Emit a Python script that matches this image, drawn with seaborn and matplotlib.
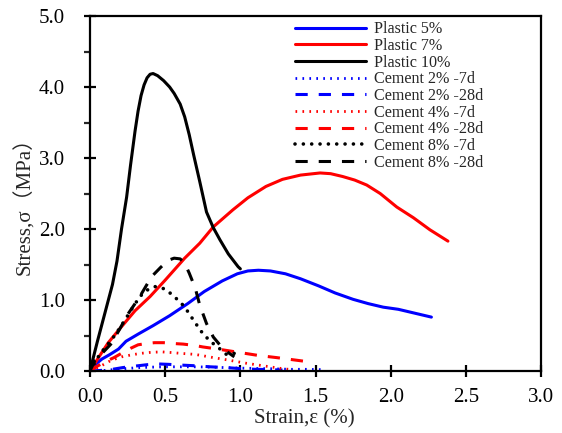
import matplotlib
matplotlib.use("Agg")
import matplotlib.pyplot as plt
import seaborn as sns
import pandas as pd

# Stress-strain curves: strain (%) and stress (MPa)
plastic5_x = [0, 0.04, 0.08, 0.13, 0.19, 0.24, 0.32, 0.42, 0.53, 0.65, 0.76, 0.88, 0.98, 1.05, 1.12,
              1.20, 1.30, 1.40, 1.52, 1.63, 1.75, 1.85, 1.95, 2.05, 2.15, 2.27]
plastic5_y = [0, 0.10, 0.17, 0.23, 0.31, 0.42, 0.52, 0.64, 0.78, 0.95, 1.12, 1.27, 1.37, 1.41, 1.42,
              1.41, 1.37, 1.30, 1.20, 1.10, 1.01, 0.95, 0.90, 0.87, 0.82, 0.76]

plastic7_x = [0, 0.06, 0.122, 0.2, 0.30, 0.40, 0.50, 0.63, 0.73, 0.82, 0.95, 1.05, 1.17, 1.28, 1.40,
              1.53, 1.60, 1.68, 1.76, 1.84, 1.93, 2.04, 2.15, 2.26, 2.38]
plastic7_y = [0, 0.20, 0.40, 0.60, 0.85, 1.05, 1.28, 1.59, 1.80, 2.03, 2.27, 2.44, 2.60, 2.70, 2.76,
              2.79, 2.78, 2.74, 2.69, 2.62, 2.50, 2.31, 2.16, 1.99, 1.83]

plastic10_x = [0, 0.05, 0.10, 0.15, 0.18, 0.21, 0.244, 0.27, 0.30, 0.32, 0.34, 0.36, 0.38, 0.40, 0.42,
               0.45, 0.49, 0.53, 0.56, 0.60, 0.63, 0.66, 0.69, 0.73, 0.775, 0.82, 0.864, 0.92, 0.985, 1.0]
plastic10_y = [0, 0.42, 0.82, 1.22, 1.55, 2.00, 2.45, 2.90, 3.38, 3.66, 3.88, 4.03, 4.13, 4.18, 4.19,
               4.16, 4.09, 4.00, 3.91, 3.76, 3.58, 3.33, 3.04, 2.67, 2.24, 2.02, 1.85, 1.65, 1.47, 1.44]

cem2_7d_x = [0, 0.1, 0.2, 0.3, 0.4, 0.5, 0.6, 0.7, 0.82, 0.95, 1.04, 1.15, 1.25, 1.33, 1.43, 1.55]
cem2_7d_y = [0, 0.01, 0.03, 0.045, 0.055, 0.06, 0.06, 0.06, 0.055, 0.045, 0.04, 0.035, 0.03, 0.025,
             0.025, 0.02]

cem2_28d_x = [0, 0.08, 0.15, 0.22, 0.30, 0.38, 0.46, 0.52, 0.60, 0.70, 0.80, 0.90, 1.00, 1.10, 1.20, 1.28]
cem2_28d_y = [0, 0.01, 0.025, 0.05, 0.07, 0.09, 0.10, 0.095, 0.085, 0.075, 0.06, 0.05, 0.035, 0.025,
              0.02, 0.015]

cem4_7d_x = [0, 0.04, 0.08, 0.14, 0.21, 0.28, 0.34, 0.41, 0.48, 0.55, 0.60, 0.70, 0.82, 0.92, 1.04,
             1.15, 1.26, 1.34]
cem4_7d_y = [0, 0.04, 0.08, 0.15, 0.20, 0.23, 0.25, 0.265, 0.27, 0.26, 0.25, 0.235, 0.19, 0.155, 0.11,
             0.075, 0.04, 0.02]

cem4_28d_x = [0, 0.05, 0.10, 0.16, 0.21, 0.27, 0.32, 0.38, 0.43, 0.49, 0.54, 0.62, 0.70, 0.75, 0.85,
              1.0, 1.12, 1.24, 1.33, 1.42]
cem4_28d_y = [0, 0.07, 0.13, 0.19, 0.25, 0.32, 0.37, 0.39, 0.40, 0.40, 0.39, 0.38, 0.36, 0.34, 0.31,
              0.26, 0.22, 0.19, 0.165, 0.14]

cem8_7d_x = [0, 0.055, 0.10, 0.144, 0.19, 0.233, 0.28, 0.332, 0.38, 0.43, 0.47, 0.51, 0.56, 0.61, 0.65,
             0.70, 0.75, 0.80, 0.86, 0.91, 0.96]
cem8_7d_y = [0, 0.20, 0.33, 0.44, 0.58, 0.72, 0.88, 1.05, 1.14, 1.19, 1.18, 1.14, 1.05, 0.95, 0.84,
             0.68, 0.53, 0.42, 0.32, 0.23, 0.25]

cem8_28d_x = [0, 0.033, 0.09, 0.144, 0.20, 0.255, 0.30, 0.343, 0.41, 0.47, 0.52, 0.56, 0.60, 0.63, 0.66,
              0.70, 0.73, 0.775, 0.82, 0.875, 0.92, 0.96]
cem8_28d_y = [0, 0.15, 0.27, 0.39, 0.60, 0.81, 0.95, 1.09, 1.33, 1.46, 1.56, 1.59, 1.58, 1.52, 1.38,
              1.17, 0.93, 0.67, 0.48, 0.34, 0.26, 0.20]

labels = ["Plastic 5%", "Plastic 7%", "Plastic 10%",
          "Cement 2% -7d", "Cement 2% -28d", "Cement 4% -7d", "Cement 4% -28d",
          "Cement 8% -7d", "Cement 8% -28d"]

x_ticks = [0.0, 0.5, 1.0, 1.5, 2.0, 2.5, 3.0]
y_ticks = [0.0, 1.0, 2.0, 3.0, 4.0, 5.0]

series = [
    (plastic5_x, plastic5_y), (plastic7_x, plastic7_y), (plastic10_x, plastic10_y),
    (cem2_7d_x, cem2_7d_y), (cem2_28d_x, cem2_28d_y),
    (cem4_7d_x, cem4_7d_y), (cem4_28d_x, cem4_28d_y),
    (cem8_7d_x, cem8_7d_y), (cem8_28d_x, cem8_28d_y),
]

frames = []
for lab, (xs, ys) in zip(labels, series):
    frames.append(pd.DataFrame({"strain": xs, "stress": ys, "curve": lab}))
df = pd.concat(frames, ignore_index=True)

SOLID = "-"
DOT_BLUE = (0, (0.6, 1.9))
DOT_RED = (0, (0.6, 1.9))
DOT_BLACK = (0, (0.01, 2.3))
DASH = (0, (4.0, 3.6))

styles = {
    "Plastic 5%": ("#0000ff", SOLID, 2.2, "butt"),
    "Plastic 7%": ("#ff0000", SOLID, 2.2, "butt"),
    "Plastic 10%": ("#000000", SOLID, 2.2, "butt"),
    "Cement 2% -7d": ("#0000ff", DOT_BLUE, 2.0, "butt"),
    "Cement 2% -28d": ("#0000ff", DASH, 2.2, "butt"),
    "Cement 4% -7d": ("#ff0000", DOT_RED, 2.0, "butt"),
    "Cement 4% -28d": ("#ff0000", DASH, 2.2, "butt"),
    "Cement 8% -7d": ("#000000", DOT_BLACK, 2.6, "round"),
    "Cement 8% -28d": ("#000000", DASH, 2.2, "butt"),
}

sns.set_theme(style="ticks")
plt.rcParams["font.family"] = ["Liberation Serif", "Noto Sans CJK SC", "DejaVu Sans"]

fig = plt.figure(figsize=(5.62, 4.33), dpi=100)
ax = fig.add_axes([0.160, 0.143, 0.803, 0.820])

for lab in labels:
    color, ls, lw, cap = styles[lab]
    sub = df[df["curve"] == lab]
    sns.lineplot(data=sub, x="strain", y="stress", ax=ax, color=color, linewidth=lw,
                 linestyle=ls, sort=False, estimator=None, label=lab,
                 dash_capstyle=cap, solid_joinstyle="round")

ax.set_xlim(0, 3.0)
ax.set_ylim(0, 5.0)
ax.set_xticks(x_ticks)
ax.set_yticks(y_ticks)
ax.set_xticklabels([f"{v:.1f}" for v in x_ticks])
ax.set_yticklabels([f"{v:.1f}" for v in y_ticks])
ax.set_yticks([0.5, 1.5, 2.5, 3.5, 4.5], minor=True)

ax.tick_params(axis="both", which="major", direction="inout", length=8, width=1.6,
               labelsize=15, colors="black")
ax.tick_params(axis="x", which="major", pad=8)
ax.tick_params(axis="y", which="major", pad=14)
ax.tick_params(axis="y", which="minor", direction="out", length=4, width=1.6)
ax.tick_params(top=False, right=False)

for side in ["left", "bottom", "top", "right"]:
    ax.spines[side].set_visible(True)
    ax.spines[side].set_linewidth(1.6)
    ax.spines[side].set_color("black")

ax.set_xlabel("Strain,ε (%)", fontsize=15)
ax.set_ylabel("Stress,σ（MPa）", fontsize=15)
ax.xaxis.set_label_coords(0.475, -0.108)
ax.yaxis.set_label_coords(-0.122, 0.48)

leg = ax.legend(loc="upper left", bbox_to_anchor=(0.455, 0.985), frameon=False,
                fontsize=11.6, handlelength=4.4, handletextpad=0.5,
                labelspacing=0.04, borderpad=0, borderaxespad=0)

fig.savefig("out.png", dpi=100)
